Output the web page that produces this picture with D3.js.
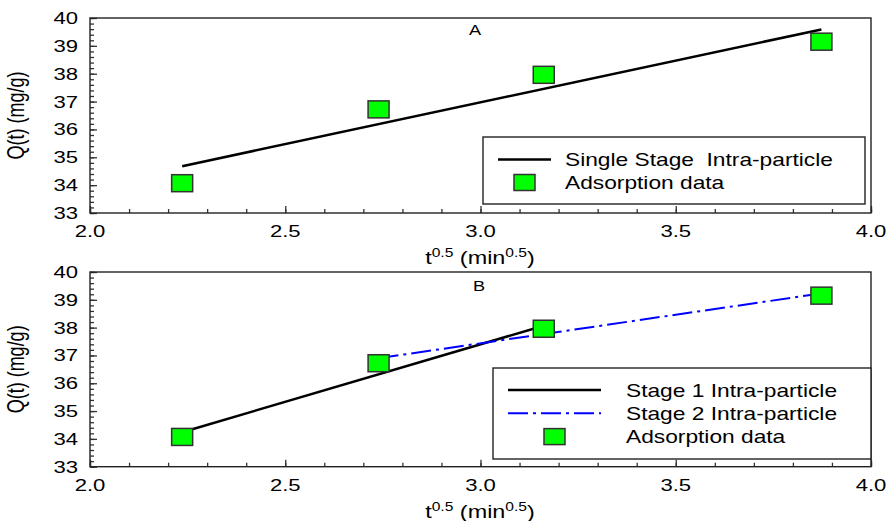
<!DOCTYPE html>
<html>
<head>
<meta charset="utf-8">
<script src="https://cdn.jsdelivr.net/npm/d3@7"></script>
<style>
  body { margin: 0; background: #fff; }
  svg text { font-family: "Liberation Sans", Arial, sans-serif; fill: #000; white-space: pre; }
</style>
</head>
<body>
<svg id="chart" width="890" height="521"></svg>
<script>
// sqrt(t) values and measured uptake
const tSqrt = [2.236, 2.739, 3.162, 3.873];
const qData = [34.07, 36.72, 37.96, 39.15];

// fitted lines (end points)
const singleX = [2.236, 3.873];
const singleY = [34.68, 39.59];
const stage1X = [2.236, 3.162];
const stage1Y = [34.24, 38.07];
const stage2X = [2.739, 3.873];
const stage2Y = [36.90, 39.23];

const xDomain = [2.0, 4.0];
const yDomain = [33, 40];
const xTickLabels = ["2.0", "2.5", "3.0", "3.5", "4.0"];
const yTickLabels = ["33", "34", "35", "36", "37", "38", "39", "40"];

const SX = 1.3; // picture is stretched sideways
const svg = d3.select("#chart");
const left = 90, right = 871;

function stxt(g, x, y, size, anchor, rot) {
  return g.append("text")
    .attr("transform", "translate(" + x + "," + y + ") scale(" + SX + ",1)" + (rot ? " rotate(" + rot + ")" : ""))
    .attr("font-size", size + "px")
    .attr("text-anchor", anchor);
}

function panel(top, bottom, label, labelX, labelY, lines, legend) {
  const x = d3.scaleLinear().domain(xDomain).range([left, right]);
  const y = d3.scaleLinear().domain(yDomain).range([bottom, top]);
  const g = svg.append("g");

  // minor + major ticks, inward
  g.append("g").attr("transform", "translate(0," + bottom + ")")
    .call(d3.axisBottom(x).tickValues(d3.range(20, 41).map(d => d / 10)).tickSize(-4).tickFormat(""))
    .call(a => a.select(".domain").remove());
  g.append("g").attr("transform", "translate(0," + bottom + ")")
    .call(d3.axisBottom(x).tickValues(d3.range(4, 9).map(d => d / 2)).tickSize(-7).tickFormat(""))
    .call(a => a.select(".domain").remove());
  g.append("g").attr("transform", "translate(" + left + ",0)")
    .call(d3.axisLeft(y).tickValues(d3.range(165, 201).map(d => d / 5)).tickSize(-4).tickFormat(""))
    .call(a => a.select(".domain").remove());
  g.append("g").attr("transform", "translate(" + left + ",0)")
    .call(d3.axisLeft(y).tickValues(d3.range(33, 41)).tickSize(-7).tickFormat(""))
    .call(a => a.select(".domain").remove());
  g.selectAll(".tick line").attr("stroke", "#333").attr("stroke-width", 1.3);

  g.append("rect")
    .attr("x", left).attr("y", top)
    .attr("width", right - left).attr("height", bottom - top)
    .attr("fill", "none").attr("stroke", "#222").attr("stroke-width", 1.4);

  xTickLabels.forEach(t => {
    stxt(g, x(+t), bottom + 24, 17, "middle").text(t);
  });
  yTickLabels.forEach(t => {
    stxt(g, left - 12, y(+t) + 6, 17, "end").text(t);
  });

  stxt(g, 24, (top + bottom) / 2, 18, "middle", -90).text("Q(t) (mg/g)");

  const xt = stxt(g, 480, bottom + 51, 18, "middle");
  xt.append("tspan").text("t");
  xt.append("tspan").attr("font-size", "12px").attr("dy", -7).text("0.5");
  xt.append("tspan").attr("dy", 7).text(" (min");
  xt.append("tspan").attr("font-size", "12px").attr("dy", -7).text("0.5");
  xt.append("tspan").attr("dy", 7).text(")");

  stxt(g, labelX, labelY, 14, "middle").text(label);

  const line = d3.line().x(d => x(d[0])).y(d => y(d[1]));
  lines.forEach(l => {
    g.append("path")
      .datum(d3.zip(l.xs, l.ys))
      .attr("d", line)
      .attr("fill", "none")
      .attr("stroke", l.color)
      .attr("stroke-width", l.width)
      .attr("stroke-dasharray", l.dash || null);
  });

  g.selectAll("rect.pt")
    .data(d3.zip(tSqrt, qData))
    .enter().append("rect")
    .attr("class", "pt")
    .attr("x", d => x(d[0]) - 10.5)
    .attr("y", d => y(d[1]) - 8.5)
    .attr("width", 21).attr("height", 17)
    .attr("fill", "#00ff00").attr("stroke", "#333").attr("stroke-width", 1.5);

  // legend
  const lg = svg.append("g");
  lg.append("rect")
    .attr("x", legend.x0).attr("y", legend.y0)
    .attr("width", legend.x1 - legend.x0).attr("height", legend.y1 - legend.y0)
    .attr("fill", "#fff").attr("stroke", "#222").attr("stroke-width", 1.4);
  legend.items.forEach((it, i) => {
    const cy = legend.rowY + i * legend.rowH;
    if (it.kind === "line") {
      lg.append("line")
        .attr("x1", legend.s0).attr("x2", legend.s1)
        .attr("y1", cy).attr("y2", cy)
        .attr("stroke", it.color).attr("stroke-width", it.width)
        .attr("stroke-dasharray", it.dash || null);
    } else {
      const mx = (legend.s0 + legend.s1) / 2;
      lg.append("rect")
        .attr("x", mx - 10.5).attr("y", cy - 8)
        .attr("width", 21).attr("height", 16)
        .attr("fill", "#00ff00").attr("stroke", "#333").attr("stroke-width", 1.5);
    }
    stxt(lg, legend.tx, cy + 6.5, 17.5, "start").text(it.text);
  });
}

panel(18, 213, "A", 475, 35,
  [{ xs: singleX, ys: singleY, color: "#000", width: 2.5 }],
  {
    x0: 483, x1: 865, y0: 137, y1: 204, rowY: 159.5, rowH: 23,
    s0: 498, s1: 551, tx: 565,
    items: [
      { kind: "line", color: "#000", width: 2.5, text: "Single Stage  Intra-particle" },
      { kind: "marker", text: "Adsorption data" }
    ]
  });

panel(272, 466.7, "B", 479, 291,
  [
    { xs: stage1X, ys: stage1Y, color: "#000", width: 2.5 },
    { xs: stage2X, ys: stage2Y, color: "#0000ff", width: 2, dash: "20,5,3,5" }
  ],
  {
    x0: 493, x1: 871, y0: 368, y1: 459, rowY: 390, rowH: 23.3,
    s0: 508, s1: 601, tx: 626,
    items: [
      { kind: "line", color: "#000", width: 2.5, text: "Stage 1 Intra-particle" },
      { kind: "line", color: "#0000ff", width: 2, dash: "20,5,3,5", text: "Stage 2 Intra-particle" },
      { kind: "marker", text: "Adsorption data" }
    ]
  });
</script>
</body>
</html>
